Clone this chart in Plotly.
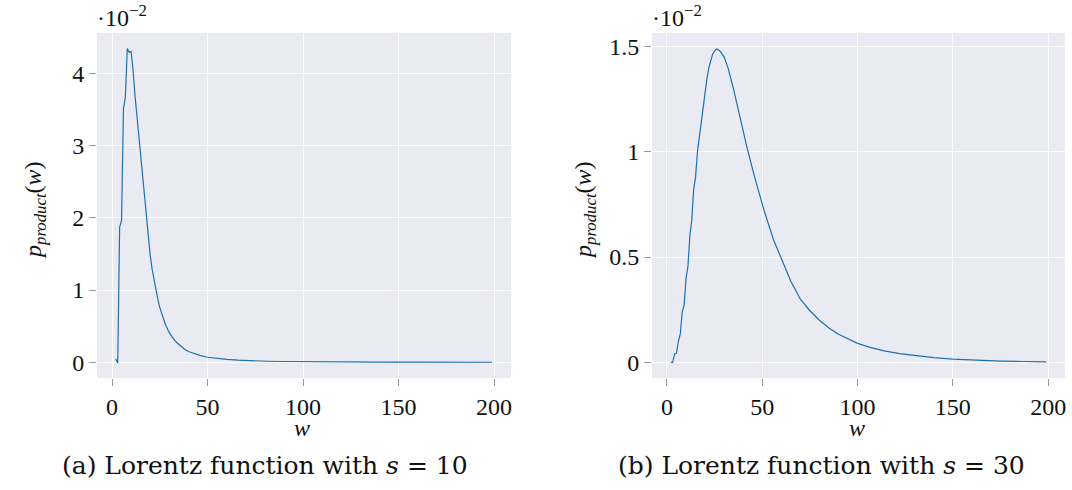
import plotly.graph_objects as go

# ---------------- data (values in units of 1e-2) ----------------
w_left = [2, 3, 4, 5, 6, 7, 8, 9, 10, 11, 12, 13, 14, 15, 16, 17, 18, 19, 20,
          21, 22, 23, 24, 25, 26, 27, 28, 30, 32, 34, 36, 38, 40, 43, 46, 50,
          55, 60, 66, 72, 81, 90, 100, 120, 140, 160, 180, 199]
p_left = [0.05, -0.01, 1.87, 1.96, 3.51, 3.67, 4.34, 4.29, 4.30, 4.05, 3.70,
          3.42, 3.14, 2.85, 2.55, 2.25, 1.98, 1.72, 1.48,
          1.29, 1.13, 0.99, 0.87, 0.76, 0.67, 0.59, 0.52, 0.41, 0.33, 0.27,
          0.22, 0.18, 0.15, 0.12, 0.095, 0.07,
          0.052, 0.04, 0.03, 0.022, 0.015, 0.011, 0.008, 0.005, 0.003,
          0.002, 0.002, 0.001]

w_right = [2, 3, 4, 5, 6, 7, 8, 9, 10, 11, 12, 13, 14, 15, 16, 17, 18, 19, 20,
           21, 22, 23, 24, 25, 26, 27, 28, 30, 32, 35, 38, 42, 46, 51, 56, 60,
           65, 70, 75, 80, 85, 90, 95, 100, 107, 114, 122, 131, 140, 150, 162,
           175, 187, 199]
p_right = [0.0, 0.0, 0.04, 0.044, 0.10, 0.135, 0.24, 0.27, 0.40, 0.455, 0.60,
           0.675, 0.82, 0.88, 1.00, 1.07, 1.16, 1.22, 1.30,
           1.35, 1.40, 1.44, 1.465, 1.478, 1.489, 1.485, 1.477, 1.45, 1.40,
           1.295, 1.175, 1.02, 0.88, 0.72, 0.58, 0.49,
           0.385, 0.30, 0.245, 0.20, 0.163, 0.133, 0.11, 0.09, 0.07, 0.054,
           0.041, 0.03, 0.022, 0.015, 0.01, 0.006, 0.004, 0.002]

x_ticks = [0, 50, 100, 150, 200]
y_ticks_left = [0, 1, 2, 3, 4]
y_ticks_right = [0, 0.5, 1, 1.5]
y_ticktext_right = ["0", "0.5", "1", "1.5"]

captions = ["(a) Lorentz function with <i>s</i> = 10",
            "(b) Lorentz function with <i>s</i> = 30"]

# ---------------- styling ----------------
FONT = "Liberation Serif, Times New Roman, serif"
CAPFONT = "DejaVu Serif, serif"
FS = 24
BG = "#EAEAF2"
LINE = "#1f70b0"
W, H = 1072, 490

def px(x):
    return x / W

def py(y):
    return 1 - y / H

fig = go.Figure()
fig.add_trace(go.Scatter(x=w_left, y=p_left, mode="lines",
                         line=dict(color=LINE, width=1.2),
                         xaxis="x", yaxis="y", showlegend=False))
fig.add_trace(go.Scatter(x=w_right, y=p_right, mode="lines",
                         line=dict(color=LINE, width=1.2),
                         xaxis="x2", yaxis="y2", showlegend=False))

common_x = dict(range=[-7.85, 208.85], tickvals=x_ticks, showgrid=True,
                gridcolor="white", gridwidth=1, zeroline=False,
                ticks="outside", ticklen=7, tickcolor="#9a9a9a", tickwidth=1,
                showline=False, tickfont=dict(family=FONT, size=FS, color="#111"))
common_y = dict(showgrid=True, gridcolor="white", gridwidth=1, zeroline=False,
                ticks="outside", ticklen=7, tickcolor="#9a9a9a", tickwidth=1,
                showline=False, tickfont=dict(family=FONT, size=FS, color="#111"))

top, bottom = 33, 378
fig.update_layout(
    width=W, height=H,
    margin=dict(l=0, r=0, t=0, b=0),
    paper_bgcolor="white",
    plot_bgcolor=BG,
    xaxis=dict(domain=[px(97), px(511)], anchor="y", **common_x),
    yaxis=dict(domain=[py(bottom), py(top)], anchor="x",
               range=[-0.217, 4.555], tickvals=y_ticks_left, **common_y),
    xaxis2=dict(domain=[px(652), px(1065)], anchor="y2", **common_x),
    yaxis2=dict(domain=[py(bottom), py(top)], anchor="x2",
                range=[-0.0745, 1.5645], tickvals=y_ticks_right,
                ticktext=y_ticktext_right, **common_y),
)

anns = []
tf = dict(family=FONT, size=FS, color="#111")
# y-axis titles
for xc in (35, 585):
    anns.append(dict(x=px(xc), y=py(210), xref="paper", yref="paper",
                     text="<i>p</i><sub><i>product</i></sub>(<i>w</i>)",
                     textangle=-90, showarrow=False, font=tf,
                     xanchor="center", yanchor="middle"))
# x-axis titles
for xc in (302, 857):
    anns.append(dict(x=px(xc), y=py(428), xref="paper", yref="paper",
                     text="<i>w</i>", showarrow=False, font=tf,
                     xanchor="center", yanchor="middle"))
# exponent labels
for xl in (95, 650):
    anns.append(dict(x=px(xl), y=py(16), xref="paper", yref="paper",
                     text="·10<sup>−2</sup>", showarrow=False,
                     font=dict(family=FONT, size=24, color="#111"),
                     xanchor="left", yanchor="middle"))
# captions
for xc, cap in zip((265, 821), captions):
    anns.append(dict(x=px(xc), y=py(465), xref="paper", yref="paper",
                     text=cap, showarrow=False,
                     font=dict(family=CAPFONT, size=25, color="#111"),
                     xanchor="center", yanchor="middle"))
fig.update_layout(annotations=anns)

fig.write_html("out.html")
